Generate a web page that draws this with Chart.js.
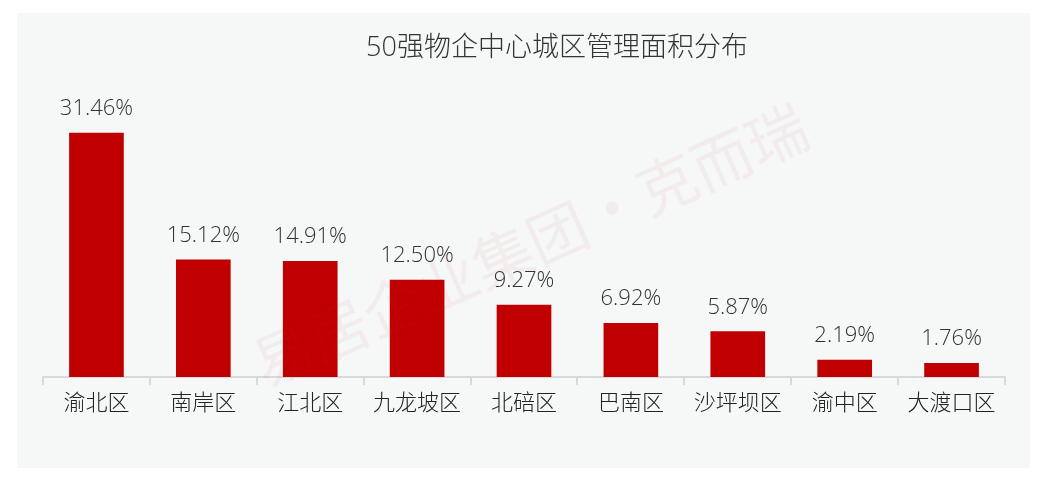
<!DOCTYPE html>
<html>
<head>
<meta charset="utf-8">
<script src="https://cdn.jsdelivr.net/npm/chart.js@4/dist/chart.umd.min.js"></script>
<style>
  html, body { margin: 0; padding: 0; background: #ffffff; }
  #wrap { width: 1046px; height: 485px; position: relative; }
</style>
</head>
<body>
<div id="wrap"><canvas id="chart" width="1046" height="485"></canvas></div>
<script>
// data
const districts = ['渝北区', '南岸区', '江北区', '九龙坡区', '北碚区', '巴南区', '沙坪坝区', '渝中区', '大渡口区'];
const shares = [31.46, 15.12, 14.91, 12.50, 9.27, 6.92, 5.87, 2.19, 1.76];
const chartTitle = '50强物企中心城区管理面积分布';
const watermark = '易居企业集团·克而瑞';

const fontFamily = '"Open Sans", "Noto Sans CJK SC", sans-serif';

// grey panel, title and faint watermark
const backdrop = {
    id: 'backdrop',
    beforeDraw(chart) {
        const ctx = chart.ctx;
        ctx.save();
        ctx.fillStyle = '#f6f7f7';
        ctx.fillRect(17, 13, 1013, 455);
        ctx.fillStyle = '#333333';
        ctx.font = '300 27px ' + fontFamily;
        ctx.textAlign = 'center';
        ctx.textBaseline = 'middle';
        ctx.fillText(chartTitle, 557, 48);
        ctx.restore();
    },
    afterDatasetsDraw(chart) {
        const ctx = chart.ctx;
        ctx.save();
        ctx.translate(530, 245);
        ctx.rotate(-0.42);
        ctx.fillStyle = 'rgba(200, 30, 30, 0.05)';
        ctx.font = '60px "Noto Sans CJK SC", sans-serif';
        ctx.textAlign = 'center';
        ctx.textBaseline = 'middle';
        ctx.fillText(watermark, 0, 0);
        ctx.restore();
    }
};

// value labels above bars
const valueLabels = {
    id: 'valueLabels',
    afterDatasetsDraw(chart) {
        const ctx = chart.ctx;
        const meta = chart.getDatasetMeta(0);
        ctx.save();
        ctx.fillStyle = '#333333';
        ctx.font = '300 22px ' + fontFamily;
        ctx.textAlign = 'center';
        ctx.textBaseline = 'alphabetic';
        meta.data.forEach((bar, i) => {
            ctx.fillText(shares[i].toFixed(2) + '%', bar.x, bar.y - 18);
        });
        ctx.restore();
    }
};

new Chart(document.getElementById('chart'), {
    type: 'bar',
    data: {
        labels: districts,
        datasets: [{
            data: shares,
            backgroundColor: '#c00000',
            barThickness: 54
        }]
    },
    options: {
        responsive: false,
        animation: false,
        layout: { padding: { top: 67, left: 43, right: 41, bottom: 48 } },
        plugins: {
            legend: { display: false },
            title: { display: false },
            tooltip: { enabled: false }
        },
        scales: {
            x: {
                afterFit(scale) { scale.height = 60; },
                grid: {
                    offset: true,
                    drawOnChartArea: false,
                    drawTicks: true,
                    tickLength: 8,
                    color: '#d9d9d9',
                    lineWidth: 2
                },
                border: { color: '#d9d9d9', width: 2 },
                ticks: {
                    color: '#222222',
                    font: { family: fontFamily, size: 22, weight: 300 },
                    padding: 6,
                    maxRotation: 0
                }
            },
            y: {
                display: false,
                min: 0,
                max: 40
            }
        }
    },
    plugins: [backdrop, valueLabels]
});
</script>
</body>
</html>
